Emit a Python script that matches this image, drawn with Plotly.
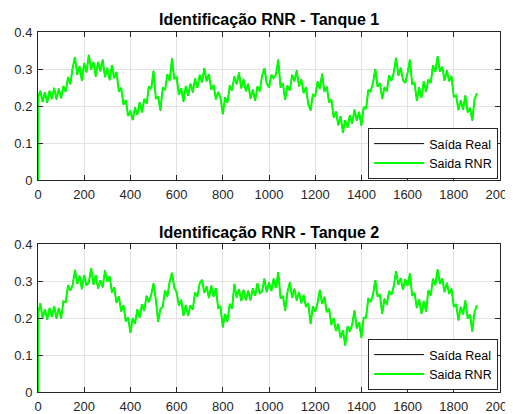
import plotly.graph_objects as go

# ---- data ----
# samples: 0, 1, then one every 10 steps up to 1900
amostras = [0, 1] + list(range(10, 1901, 10))
tanque1_rnr = [
    0.000, 0.226,
    0.241, 0.211, 0.237, 0.209, 0.241, 0.219, 0.249, 0.218, 0.247,
    0.221, 0.254, 0.238, 0.278, 0.259, 0.303, 0.332, 0.285, 0.308, 0.268,
    0.316, 0.291, 0.338, 0.299, 0.319, 0.280, 0.319, 0.294, 0.325, 0.278,
    0.303, 0.270, 0.310, 0.275, 0.292, 0.239, 0.249, 0.204, 0.216, 0.173,
    0.187, 0.162, 0.196, 0.176, 0.210, 0.183, 0.219, 0.206, 0.253, 0.246,
    0.295, 0.221, 0.224, 0.188, 0.250, 0.243, 0.286, 0.268, 0.328, 0.274,
    0.278, 0.230, 0.248, 0.212, 0.254, 0.228, 0.260, 0.237, 0.274, 0.249,
    0.284, 0.264, 0.302, 0.267, 0.286, 0.244, 0.257, 0.218, 0.238, 0.222,
    0.178, 0.223, 0.209, 0.255, 0.242, 0.280, 0.259, 0.290, 0.248, 0.272,
    0.240, 0.260, 0.220, 0.244, 0.214, 0.253, 0.240, 0.282, 0.302, 0.262,
    0.250, 0.284, 0.275, 0.285, 0.325, 0.250, 0.261, 0.217, 0.255, 0.242,
    0.284, 0.267, 0.296, 0.253, 0.272, 0.235, 0.251, 0.205, 0.188, 0.232,
    0.226, 0.266, 0.246, 0.287, 0.238, 0.252, 0.210, 0.217, 0.169, 0.185,
    0.148, 0.172, 0.128, 0.162, 0.141, 0.175, 0.153, 0.190, 0.161, 0.184,
    0.147, 0.197, 0.192, 0.244, 0.239, 0.262, 0.300, 0.252, 0.262, 0.219,
    0.251, 0.240, 0.283, 0.268, 0.290, 0.330, 0.282, 0.303, 0.270, 0.262,
    0.290, 0.325, 0.258, 0.264, 0.214, 0.250, 0.222, 0.267, 0.239, 0.272,
    0.262, 0.310, 0.292, 0.334, 0.293, 0.306, 0.269, 0.296, 0.267, 0.281,
    0.225, 0.228, 0.189, 0.215, 0.190, 0.228, 0.183, 0.195, 0.161, 0.218,
    0.234,
]
tanque2_rnr = [
    0.000, 0.214,
    0.240, 0.199, 0.224, 0.196, 0.227, 0.203, 0.232, 0.199, 0.227,
    0.199, 0.245, 0.243, 0.289, 0.274, 0.289, 0.330, 0.292, 0.314, 0.278,
    0.316, 0.288, 0.296, 0.335, 0.290, 0.316, 0.280, 0.302, 0.283, 0.328,
    0.298, 0.313, 0.269, 0.283, 0.241, 0.258, 0.218, 0.234, 0.191, 0.201,
    0.160, 0.200, 0.185, 0.223, 0.201, 0.237, 0.219, 0.260, 0.243, 0.262,
    0.293, 0.250, 0.190, 0.225, 0.230, 0.275, 0.258, 0.298, 0.322, 0.282,
    0.270, 0.233, 0.249, 0.206, 0.235, 0.207, 0.234, 0.223, 0.269, 0.258,
    0.294, 0.303, 0.268, 0.285, 0.254, 0.287, 0.258, 0.281, 0.227, 0.231,
    0.175, 0.211, 0.190, 0.238, 0.225, 0.292, 0.255, 0.278, 0.246, 0.276,
    0.248, 0.274, 0.248, 0.280, 0.260, 0.294, 0.267, 0.272, 0.306, 0.270,
    0.296, 0.273, 0.306, 0.281, 0.324, 0.253, 0.260, 0.220, 0.271, 0.296,
    0.255, 0.279, 0.247, 0.270, 0.240, 0.262, 0.230, 0.240, 0.184, 0.231,
    0.217, 0.240, 0.276, 0.238, 0.257, 0.216, 0.225, 0.181, 0.200, 0.165,
    0.184, 0.146, 0.167, 0.126, 0.178, 0.164, 0.182, 0.220, 0.172, 0.189,
    0.147, 0.201, 0.201, 0.254, 0.243, 0.262, 0.302, 0.258, 0.264, 0.212,
    0.252, 0.236, 0.273, 0.263, 0.286, 0.326, 0.290, 0.308, 0.276, 0.305,
    0.287, 0.320, 0.260, 0.268, 0.227, 0.250, 0.212, 0.246, 0.218, 0.275,
    0.261, 0.306, 0.289, 0.331, 0.292, 0.307, 0.270, 0.295, 0.265, 0.279,
    0.230, 0.238, 0.194, 0.230, 0.210, 0.247, 0.199, 0.209, 0.164, 0.217,
    0.234,
]
# the real output lies under the network output almost everywhere
tanque1_real = list(tanque1_rnr)
tanque2_real = list(tanque2_rnr)

titulos = ["Identificação RNR - Tanque 1", "Identificação RNR - Tanque 2"]
nomes = ["Saída Real", "Saida RNR"]
x_ticks = [0, 200, 400, 600, 800, 1000, 1200, 1400, 1600, 1800, 2000]
y_ticks = [0, 0.1, 0.2, 0.3, 0.4]
y_tick_text = ["0", "0.1", "0.2", "0.3", "0.4"]

FONT = "Liberation Sans, Arial, Helvetica, sans-serif"
AX = "#262626"
GRID = "#e3e3e3"

fig = go.Figure()

series = [
    (tanque1_real, tanque1_rnr, "x", "y", "legend"),
    (tanque2_real, tanque2_rnr, "x2", "y2", "legend2"),
]
for real, rnr, xa, ya, leg in series:
    fig.add_trace(go.Scatter(x=amostras, y=real, mode="lines", name=nomes[0],
                             line=dict(color="#000000", width=1, simplify=False),
                             xaxis=xa, yaxis=ya, legend=leg))
    fig.add_trace(go.Scatter(x=amostras, y=rnr, mode="lines", name=nomes[1],
                             line=dict(color="#00ff00", width=2, simplify=False),
                             xaxis=xa, yaxis=ya, legend=leg))

xaxis_common = dict(range=[0, 2000], tickvals=x_ticks, ticks="inside", ticklen=5,
                    tickcolor=AX, showline=True, linecolor=AX, linewidth=1,
                    mirror="ticks", showgrid=True, gridcolor=GRID, zeroline=False,
                    tickfont=dict(family=FONT, size=13, color=AX),
                    ticklabelstandoff=2, ticklabeloverflow="allow",
                    automargin=False)
yaxis_common = dict(range=[0, 0.4], tickvals=y_ticks, ticktext=y_tick_text,
                    ticks="inside", ticklen=5, tickcolor=AX, showline=True,
                    linecolor=AX, linewidth=1, mirror="ticks", showgrid=True,
                    gridcolor=GRID, zeroline=False,
                    tickfont=dict(family=FONT, size=13, color=AX),
                    ticklabelstandoff=2, automargin=False)

legend_common = dict(bgcolor="white", bordercolor=AX, borderwidth=1,
                     font=dict(family=FONT, size=12.5, color="#000000"),
                     xanchor="right", yanchor="bottom", tracegroupgap=0,
                     itemwidth=50)

top_dom = [212 / 360, 1.0]
bot_dom = [0.0, 148 / 360]

# the page adds an 8 px body margin, so the figure is 8 px smaller each way
fig.update_layout(
    width=505, height=406,
    margin=dict(l=30, r=13, t=24, b=22),
    paper_bgcolor="white", plot_bgcolor="white",
    font=dict(family=FONT, size=13, color=AX),
    xaxis=dict(domain=[0, 1], anchor="y", **xaxis_common),
    yaxis=dict(domain=top_dom, anchor="x", **yaxis_common),
    xaxis2=dict(domain=[0, 1], anchor="y2", **xaxis_common),
    yaxis2=dict(domain=bot_dom, anchor="x2", **yaxis_common),
    legend=dict(x=0.996, y=(392 - 179) / 360, **legend_common),
    legend2=dict(x=0.996, y=(392 - 390) / 360, **legend_common),
    showlegend=True,
    annotations=[
        dict(text="<b>" + titulos[0] + "</b>", x=0.5, y=(392 - 20) / 360,
             xref="paper", yref="paper", xanchor="center", yanchor="middle",
             showarrow=False, font=dict(family=FONT, size=16, color="#000000")),
        dict(text="<b>" + titulos[1] + "</b>", x=0.5, y=(392 - 232) / 360,
             xref="paper", yref="paper", xanchor="center", yanchor="middle",
             showarrow=False, font=dict(family=FONT, size=16, color="#000000")),
    ],
)

fig.write_html("out.html")
